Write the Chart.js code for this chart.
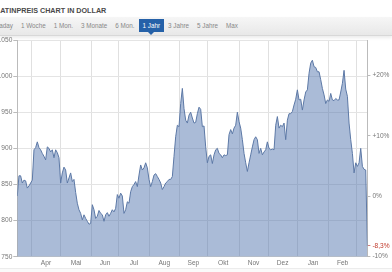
<!DOCTYPE html>
<html>
<head>
<meta charset="utf-8">
<script src="https://cdn.jsdelivr.net/npm/chart.js@4.4.1/dist/chart.umd.min.js"></script>
<style>
body { margin:0; width:392px; height:272px; overflow:hidden; background:#fff; font-family:"Liberation Sans", Arial, sans-serif; position:relative; }
.title { position:absolute; left:-9px; top:6px; font-size:7.2px; font-weight:bold; color:#4a4a4a; white-space:nowrap; }
.tabs { position:absolute; left:0; top:17px; width:392px; height:18px; background:linear-gradient(#f6f6f6, #e8e8e8); border-bottom:1px solid #d8d8d8; box-shadow:0 2px 3px rgba(0,0,0,0.08); }
.tabs ul { display:flex; margin:0 0 0 -13.8px; padding:0; list-style:none; }
.tabs li { padding:0 4px; margin-top:2px; font-size:6.3px; line-height:13px; color:#888; white-space:nowrap; position:relative; }
.tabs li.active { background:#2561a8; color:#fff; }
.tabs li.active:after { content:''; position:absolute; left:50%; margin-left:-3px; bottom:-3px; border-left:3px solid transparent; border-right:3px solid transparent; border-top:3px solid #2561a8; }
.foot { position:absolute; left:0; top:268px; width:392px; height:4px; border-top:1px solid #ececec; background:#fafafa; }
#wrap { position:absolute; left:0; top:30px; width:392px; height:242px; }
</style>
</head>
<body>
<div class="title">PLATINPREIS CHART IN DOLLAR</div>
<div class="tabs"><ul>
  <li>Intraday</li><li>1 Woche</li><li>1 Mon.</li><li>3 Monate</li><li>6 Mon.</li><li class="active">1 Jahr</li><li>3 Jahre</li><li>5 Jahre</li><li>Max</li>
</ul></div>
<div class="foot"></div>
<div id="wrap"><canvas id="myChart"></canvas></div>
<script>
// Platinpreis in USD, 1 Jahr (ca. Mitte Maerz bis Mitte Maerz)
const prices = [
  834, 862, 862, 852, 856, 855, 845, 848, 852, 856,
  898, 901, 909, 901, 898, 893, 889, 884, 902, 900,
  895, 898, 887, 898, 894, 887, 852, 866, 874, 870,
  852, 859, 866, 854, 857, 839, 824, 815, 810, 801,
  808, 803, 799, 795, 796, 822, 815, 803, 806, 814,
  810, 808, 799, 808, 811, 806,
  810, 815, 812, 817, 836, 831, 838, 834, 810, 815,
  826, 824, 840, 847, 850, 854, 847, 863, 877, 870,
  873, 880, 873, 857, 847, 854, 863, 865, 861, 857,
  852, 843, 847, 852, 854, 857, 857, 861, 889, 916,
  932, 930, 962, 983, 955, 939, 935, 946, 950, 942,
  935, 936, 948, 957, 954,
  930, 931, 902, 880, 889, 891, 879, 891, 898, 900,
  893, 891, 887, 891, 890, 891, 919, 926, 920, 928,
  932, 950, 937, 928, 912, 893, 880, 868, 880, 891,
  902, 912, 916, 912, 893, 900, 891, 895, 898, 909,
  900, 898, 899, 898, 932, 944, 928, 932, 930, 935,
  912, 939, 948, 948, 951,
  960, 968, 981, 967, 968, 953, 967, 978, 981, 1004,
  1018, 1022, 1013, 1012, 1006, 1006, 995, 983, 974, 962,
  967, 965, 976, 967, 966, 969, 967, 967, 978, 990,
  1008, 982, 972, 935, 912, 893, 866, 880, 875, 880,
  900, 875, 871, 870, 765
];
const monthLabels = ['Apr', 'Mai', 'Jun', 'Jul', 'Aug', 'Sep', 'Okt', 'Nov', 'Dez', 'Jan', 'Feb'];
// index in prices where each month starts (Apr ... Mrz)
const monthStarts = [8.4, 26, 44.4, 60.8, 79.2, 97.2, 114, 133, 150.4, 168, 186.8, 203.4];
const priceTicks = [750, 800, 850, 900, 950, 1000, 1050];
const pctTicks = [20, 10, 0, -10];

const base = prices[0];
const lastPct = (prices[prices.length - 1] / base - 1) * 100;
const fontFam = '"Liberation Sans", Arial, sans-serif';
const axisGray = '#bbb';

function fmtPrice(v) {
  if (v >= 1000) return Math.floor(v / 1000) + '.' + String(v % 1000).padStart(3, '0');
  return String(v);
}
function fmtPct(v) {
  let s = Number.isInteger(v) ? String(v) : v.toFixed(1).replace('.', ',');
  return (v > 0 ? '+' : '') + s + '%';
}

new Chart(document.getElementById('myChart'), {
  type: 'line',
  data: {
    datasets: [{
      data: prices.map((p, i) => ({ x: i, y: p })),
      borderColor: '#5d79a6',
      borderWidth: 1,
      backgroundColor: 'rgba(75,110,170,0.47)',
      fill: 'start',
      pointRadius: 0,
      tension: 0
    }]
  },
  options: {
    responsive: true,
    maintainAspectRatio: false,
    animation: false,
    layout: { padding: { top: 10, left: 0, right: 0, bottom: 0 } },
    scales: {
      x: {
        type: 'linear',
        min: 0,
        max: prices.length - 1,
        afterBuildTicks: s => {
          let t = [];
          monthStarts.forEach((m, i) => {
            t.push({ value: m });
            if (i < monthLabels.length) t.push({ value: (m + monthStarts[i + 1]) / 2 });
          });
          s.ticks = t;
        },
        afterFit: s => { s.height = 15.3 },
        ticks: {
          autoSkip: false,
          maxRotation: 0,
          padding: 3,
          color: '#777',
          font: { size: 6.6, family: fontFam },
          callback: (v, i) => i % 2 ? monthLabels[(i - 1) / 2] : ''
        },
        grid: {
          drawTicks: false,
          color: ctx => ctx.index % 2 ? 'rgba(0,0,0,0)' : '#e0e0e0'
        },
        border: { color: '#d0d0d0' }
      },
      y: {
        position: 'left',
        min: 750,
        max: 1050,
        afterBuildTicks: s => { s.ticks = priceTicks.map(v => ({ value: v })) },
        afterFit: s => { s.width = 17.3 },
        ticks: {
          padding: 1,
          color: '#777',
          font: { size: 6.6, family: fontFam },
          callback: v => fmtPrice(v)
        },
        grid: { color: '#e4e4e4', tickLength: 4, tickColor: axisGray },
        border: { color: axisGray }
      },
      y2: {
        position: 'right',
        min: (750 / base - 1) * 100,
        max: (1050 / base - 1) * 100,
        afterBuildTicks: s => { s.ticks = pctTicks.concat([lastPct]).map(v => ({ value: v })) },
        afterFit: s => { s.width = 24.6 },
        ticks: {
          padding: 2,
          color: ctx => ctx.tick && ctx.tick.value === lastPct ? '#c0392b' : '#777',
          font: { size: 6.6, family: fontFam },
          callback: v => fmtPct(v)
        },
        grid: {
          drawOnChartArea: false,
          tickLength: 3,
          tickColor: ctx => ctx.tick && ctx.tick.value === lastPct ? '#d08080' : axisGray
        },
        border: { color: axisGray }
      }
    },
    plugins: {
      legend: { display: false },
      tooltip: { enabled: false }
    }
  }
});
</script>
</body>
</html>
